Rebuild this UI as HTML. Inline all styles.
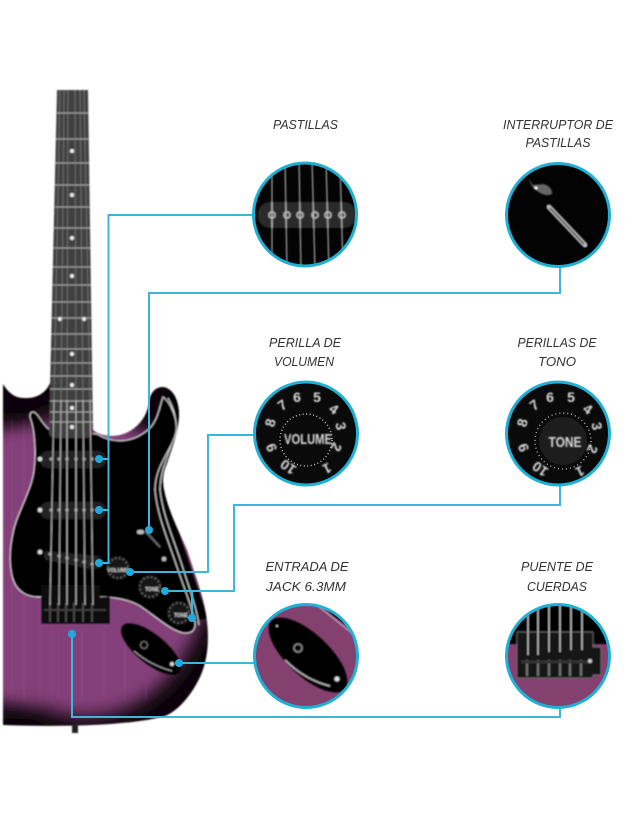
<!DOCTYPE html>
<html><head><meta charset="utf-8"><style>
html,body{margin:0;padding:0;background:#fff}
svg{display:block}
text{font-family:"Liberation Sans",sans-serif}
.l{font-style:italic;font-size:13px;fill:#333;text-anchor:middle}
.n{font-weight:bold;font-size:14px;fill:#ddd;text-anchor:middle}
.t{font-weight:bold;fill:#ddd;text-anchor:middle}
</style></head><body>
<svg width="639" height="826" viewBox="0 0 639 826" xmlns="http://www.w3.org/2000/svg">
<defs>
<filter id="b" x="-5%" y="-5%" width="110%" height="110%"><feGaussianBlur stdDeviation="0.7"/></filter>
<filter id="bb" x="-30%" y="-30%" width="160%" height="160%"><feGaussianBlur stdDeviation="9"/></filter>
<clipPath id="body"><path d="M3 384C8 392 14 398 24 398C36 399 46 393 50 383L93 430C98 434 104 436 112 436C130 436 146 422 149 403C150 393 155 387 163 387C172 388 178 398 179 412C179 432 172 448 167 463C163 473 162 480 164 490C168 510 178 530 187 550C195 575 205 600 207 622C209 640 208 660 200 677C193 692 180 710 165 716C130 726 60 727 3 725Z"/></clipPath>
<clipPath id="c1"><circle cx="305" cy="214.500" r="51"/></clipPath>
<clipPath id="c2"><circle cx="558" cy="215" r="51"/></clipPath>
<clipPath id="c5"><circle cx="306" cy="656" r="51"/></clipPath>
<clipPath id="c6"><circle cx="558" cy="656" r="51"/></clipPath>
</defs>
<rect width="639" height="826" fill="#fff"/>

<g filter="url(#b)">
<path d="M3 384C8 392 14 398 24 398C36 399 46 393 50 383L93 430C98 434 104 436 112 436C130 436 146 422 149 403C150 393 155 387 163 387C172 388 178 398 179 412C179 432 172 448 167 463C163 473 162 480 164 490C168 510 178 530 187 550C195 575 205 600 207 622C209 640 208 660 200 677C193 692 180 710 165 716C130 726 60 727 3 725Z" fill="#0a0408"/>
<g clip-path="url(#body)">
<ellipse cx="85" cy="565" rx="124" ry="152" fill="#84407a" filter="url(#bb)"/>
<rect x="-30" y="428" width="70" height="276" fill="#84407a" filter="url(#bb)"/>
<path d="M168 398C176 412 178 425 173 440C167 458 160 472 160 490C163 515 172 535 181 562C188 585 196 605 199 620" fill="none" stroke="#050505" stroke-width="16"/>
<g stroke="#a4609a" stroke-opacity=".15" stroke-width="2">
<path d="M12 420V700M24 420V700M40 600V700M58 630V700M82 630V700M104 630V700M125 630V700M146 680V700"/>
</g>
</g>
<rect x="72" y="724" width="6" height="9" fill="#222"/>
<path d="M168 398C176 412 178 425 173 440C167 458 160 472 160 490C163 515 172 535 181 562C188 585 196 605 199 625" fill="none" stroke="#ddd" stroke-width="1"/>
<!-- pickguard -->
<path d="M33 412C30 412 29 416 31 420C35 432 36 455 34 470C32 490 16 515 13 533C9 550 9 570 14 582C18 592 28 597 38 597L100 597C115 597 130 600 140 606C155 616 170 630 183 633C192 634 196 630 195 622C193 610 183 585 177 567C168 540 157 515 155 490C155 465 172 450 176 432C178 418 170 402 163 397C160 405 158 420 150 428C135 442 115 445 97 434L50 430C42 425 38 412 33 412Z" fill="#050505" stroke="#d8d8d8" stroke-width="1"/>
<!-- neck -->
<path d="M57 90H88L93 432Q92 438 85 438H56Q49 438 49 432Z" fill="#404040"/>
<g stroke="#a8a8a8" stroke-width="1">
<path d="M56 113H88M56 139H88M55 163H89M55 185H89M55 207H89M54 228H90M54 248H90M53 267H91M53 285H91M52 302H91M52 318H92M51 334H92M51 349H92M51 363H92M50 376H93M50 389H93M50 401H93M50 412H93M50 422H93"/>
</g>
<g fill="#eee">
<circle cx="72" cy="151" r="2"/><circle cx="72" cy="195" r="2"/><circle cx="72" cy="238" r="2"/><circle cx="72" cy="276" r="2"/><circle cx="60" cy="319" r="2"/><circle cx="84" cy="319" r="2"/><circle cx="72" cy="354" r="2"/><circle cx="72" cy="385" r="2"/><circle cx="72" cy="408" r="2"/><circle cx="72" cy="427" r="2"/>
</g>
<!-- pickups -->
<rect x="40" y="451" width="66" height="17" rx="8" fill="#222"/>
<rect x="40" y="502" width="66" height="17" rx="8" fill="#222"/>
<path d="M46 551L98 556Q106 560 102 566Q98 570 90 569L46 560Q42 555 46 551Z" fill="#222"/>
<g fill="#999">
<circle cx="51" cy="459" r="1.600"/><circle cx="59" cy="459" r="1.600"/><circle cx="67" cy="459" r="1.600"/><circle cx="76" cy="459" r="1.600"/><circle cx="84" cy="459" r="1.600"/><circle cx="92" cy="459" r="1.600"/>
<circle cx="51" cy="510" r="1.600"/><circle cx="59" cy="510" r="1.600"/><circle cx="67" cy="510" r="1.600"/><circle cx="76" cy="510" r="1.600"/><circle cx="84" cy="510" r="1.600"/><circle cx="92" cy="510" r="1.600"/>
<circle cx="50" cy="554" r="1.600"/><circle cx="59" cy="556" r="1.600"/><circle cx="67" cy="558" r="1.600"/><circle cx="76" cy="560" r="1.600"/><circle cx="84" cy="562" r="1.600"/><circle cx="92" cy="564" r="1.600"/>
</g>
<g fill="#ddd">
<circle cx="40" cy="459" r="2.300"/><circle cx="40" cy="510" r="2.300"/><circle cx="40" cy="552" r="2.300"/>
</g>
<!-- bridge -->
<path d="M41 585H100V597H110V624H41Z" fill="#111"/>
<g stroke="#555" stroke-width="1.500">
<path d="M50 603V622M58 603V622M66 603V622M74 603V622M83 603V622M92 603V622"/>
<path d="M44 610H106" stroke="#444"/>
</g>
<!-- strings -->
<g stroke="#a8a8a8" stroke-width="1" stroke-opacity=".45">
<path d="M60 90L54 400M64 90L61 400M68 90L67 400M75 90L76 400M80 90L83 400M84 90L90 400"/>
</g>
<g stroke="#b9b9b9" stroke-width="1">
<path d="M54 400L50 605M61 400L59 605M67 400L67 605M76 400L76 605M83 400L85 605M90 400L93 605"/>
</g>
<!-- switch -->
<path d="M146 532L160 547" stroke="#666" stroke-width="2"/>
<rect x="137" y="530" width="7" height="4" rx="2" fill="#bbb"/>
<circle cx="164" cy="559" r="2.300" fill="#bbb"/>
<!-- knobs -->
<circle cx="118" cy="568" r="12" fill="#151515"/>
<circle cx="150" cy="587" r="12" fill="#151515"/>
<circle cx="179" cy="613" r="12" fill="#151515"/>
<text class="t" x="118" y="572" font-size="5">VOLUME</text>
<text class="t" x="152" y="591" font-size="5">TONE</text>
<text class="t" x="181" y="617" font-size="5">TONE</text>
<circle cx="118" cy="568" r="10" fill="none" stroke="#888" stroke-width="1.500" stroke-dasharray="1 3"/>
<circle cx="150" cy="587" r="10" fill="none" stroke="#888" stroke-width="1.500" stroke-dasharray="1 3"/>
<circle cx="179" cy="613" r="10" fill="none" stroke="#888" stroke-width="1.500" stroke-dasharray="1 3"/>
<!-- jack plate -->
<ellipse cx="151" cy="649" rx="37" ry="15" transform="rotate(39 151 649)" fill="#050505"/>
<path d="M134 651Q150 665 172 671" stroke="#aaa" stroke-width="1" fill="none"/>
<circle cx="144" cy="645" r="3.500" fill="none" stroke="#777" stroke-width="1"/>
<circle cx="172" cy="664" r="2" fill="#ddd"/>
</g>

<!-- connectors -->
<g fill="none" stroke="#3cb6dc" stroke-width="2">
<path d="M254 215H108.500V563H99M108.500 459H99M108.500 510H99"/>
<path d="M560 267V293H149V530"/>
<path d="M254 435H208V572H130"/>
<path d="M560 485V505H234V591H165M192 591V618"/>
<path d="M254 663H179"/>
<path d="M560 708V717H72V634"/>
</g>
<g fill="#21a9dc">
<circle cx="99" cy="459" r="4"/><circle cx="99" cy="510" r="4"/><circle cx="99" cy="563" r="4"/>
<circle cx="149" cy="530" r="4"/><circle cx="130" cy="572" r="4"/><circle cx="165" cy="591" r="4"/>
<circle cx="192" cy="618" r="4"/><circle cx="179" cy="663" r="4"/><circle cx="72" cy="634" r="4"/>
</g>

<!-- circle 1 -->
<circle cx="305" cy="214.500" r="51" fill="#040404"/>
<g clip-path="url(#c1)" filter="url(#b)">
<rect x="258" y="202" width="98" height="26" rx="12" fill="#2c2c2c"/>
<g fill="none" stroke="#bbb" stroke-width="1.500">
<circle cx="272" cy="215" r="3"/><circle cx="287" cy="215" r="3"/><circle cx="300" cy="215" r="3"/><circle cx="315" cy="215" r="3"/><circle cx="328" cy="215" r="3"/><circle cx="342" cy="215" r="3"/>
</g>
<path d="M272 160V270M285 160L287 270M299 160L301 270M312 160L315 270M326 160L329 270M340 160L343 270" stroke="#c8c8c8" stroke-width="1"/>
</g>
<!-- circle 2 -->
<circle cx="558" cy="215" r="51" fill="#030303"/>
<g clip-path="url(#c2)" filter="url(#b)">
<path d="M549 207L585 245" stroke="#bbb" stroke-width="5" stroke-linecap="round"/>
<path d="M550 208L584 244" stroke="#333" stroke-width="1.500"/>
<path d="M528 178L533 188Q545 198 552 194Q552 186 543 184L533 185Z" fill="#666"/>
<circle cx="536" cy="188" r="1.500" fill="#fff"/>
</g>
<!-- circle 3 -->
<circle cx="306" cy="433.500" r="51" fill="#0a0a0a"/>
<circle cx="306" cy="440" r="26" fill="none" stroke="#bbb" stroke-width="1.500" stroke-dasharray="1 2.500"/>
<g filter="url(#b)">
<text class="n" x="297" y="402">6</text>
<text class="n" x="317" y="402">5</text>
<text class="n" transform="translate(331 413) rotate(35)">4</text>
<text class="n" transform="translate(336 427) rotate(80)">3</text>
<text class="n" transform="translate(332 445) rotate(115)">2</text>
<text class="n" transform="translate(325 464) rotate(155)" font-size="9">1</text>
<text class="n" transform="translate(291 463) rotate(215)" font-size="10">10</text>
<text class="n" transform="translate(276 446) rotate(250)">9</text>
<text class="n" transform="translate(275 424) rotate(285)">8</text>
<text class="n" transform="translate(285 409) rotate(325)">7</text>
<text class="t" x="308" y="444" font-size="15" textLength="48" lengthAdjust="spacingAndGlyphs">VOLUME</text>
</g>
<!-- circle 4 -->
<circle cx="558" cy="433.500" r="51" fill="#0a0a0a"/>
<circle cx="563" cy="441" r="24" fill="#1d1d1d"/>
<circle cx="563" cy="441" r="28" fill="none" stroke="#aaa" stroke-width="1.500" stroke-dasharray="1 3"/>
<g filter="url(#b)">
<text class="n" x="550" y="402">6</text>
<text class="n" x="571" y="402">5</text>
<text class="n" transform="translate(585 413) rotate(35)">4</text>
<text class="n" transform="translate(592 427) rotate(80)">3</text>
<text class="n" transform="translate(588 447) rotate(115)">2</text>
<text class="n" transform="translate(578 467) rotate(155)" font-size="8">1</text>
<text class="n" transform="translate(543 465) rotate(215)" font-size="10">10</text>
<text class="n" transform="translate(528 446) rotate(250)">9</text>
<text class="n" transform="translate(527 424) rotate(285)">8</text>
<text class="n" transform="translate(537 409) rotate(325)">7</text>
<text class="t" x="565" y="447" font-size="15" textLength="33" lengthAdjust="spacingAndGlyphs">TONE</text>
</g>
<!-- circle 5 -->
<circle cx="306" cy="656" r="51" fill="#84406f"/>
<g clip-path="url(#c5)" filter="url(#b)">
<path d="M318 604L360 636V600Z" fill="#050505"/>
<path d="M318 606L353 634" stroke="#ccc" stroke-width="1"/>
<ellipse cx="308" cy="655" rx="50" ry="21" transform="rotate(43 308 655)" fill="#050505"/>
<path d="M285 660Q305 680 330 686" stroke="#bbb" stroke-width="1.500" fill="none"/>
<circle cx="298" cy="648" r="4" fill="none" stroke="#888" stroke-width="1.500"/>
<circle cx="337" cy="679" r="2.500" fill="#ddd"/>
<circle cx="277" cy="626" r="1" fill="#ddd"/>
</g>
<!-- circle 6 -->
<circle cx="558" cy="656" r="51" fill="#84406f"/>
<g clip-path="url(#c6)" filter="url(#b)">
<rect x="500" y="600" width="120" height="44" fill="#050505"/>
<path d="M517 632H593V647H601V675H593V678H517Z" fill="#141414" stroke="#777" stroke-width=".7"/>
<g stroke="#777" stroke-width="2">
<path d="M527 660V676M538 660V676M549 660V676M560 660V676M570 660V676M581 660V676"/>
</g>
<path d="M521 662H590" stroke="#333" stroke-width="3"/>
<circle cx="590" cy="661" r="2" fill="#ccc"/>
<path d="M528 605V655M538 605V655M549 605V652M560 605V652M571 605V650M582 605V650" stroke="#ccc" stroke-width="1.200"/>
</g>
<g fill="none" stroke="#1fb0d4" stroke-width="3">
<circle cx="305" cy="214.500" r="51.500"/><circle cx="558" cy="215" r="51.500"/>
<circle cx="306" cy="433.500" r="51.500"/><circle cx="558" cy="433.500" r="51.500"/>
<circle cx="306" cy="656" r="51.500"/><circle cx="558" cy="656" r="51.500"/>
</g>

<!-- labels -->
<text class="l" x="305.500" y="129" textLength="65" lengthAdjust="spacingAndGlyphs">PASTILLAS</text>
<text class="l" x="558" y="129" textLength="110" lengthAdjust="spacingAndGlyphs">INTERRUPTOR DE</text>
<text class="l" x="558" y="147" textLength="65" lengthAdjust="spacingAndGlyphs">PASTILLAS</text>
<text class="l" x="305" y="347" textLength="72" lengthAdjust="spacingAndGlyphs">PERILLA DE</text>
<text class="l" x="304" y="366" textLength="60" lengthAdjust="spacingAndGlyphs">VOLUMEN</text>
<text class="l" x="557" y="347" textLength="79" lengthAdjust="spacingAndGlyphs">PERILLAS DE</text>
<text class="l" x="557" y="366" textLength="38" lengthAdjust="spacingAndGlyphs">TONO</text>
<text class="l" x="307" y="571" textLength="83" lengthAdjust="spacingAndGlyphs">ENTRADA DE</text>
<text class="l" x="306" y="591" textLength="80" lengthAdjust="spacingAndGlyphs">JACK 6.3MM</text>
<text class="l" x="557" y="571" textLength="72" lengthAdjust="spacingAndGlyphs">PUENTE DE</text>
<text class="l" x="557" y="591" textLength="60" lengthAdjust="spacingAndGlyphs">CUERDAS</text>
</svg>
</body></html>
